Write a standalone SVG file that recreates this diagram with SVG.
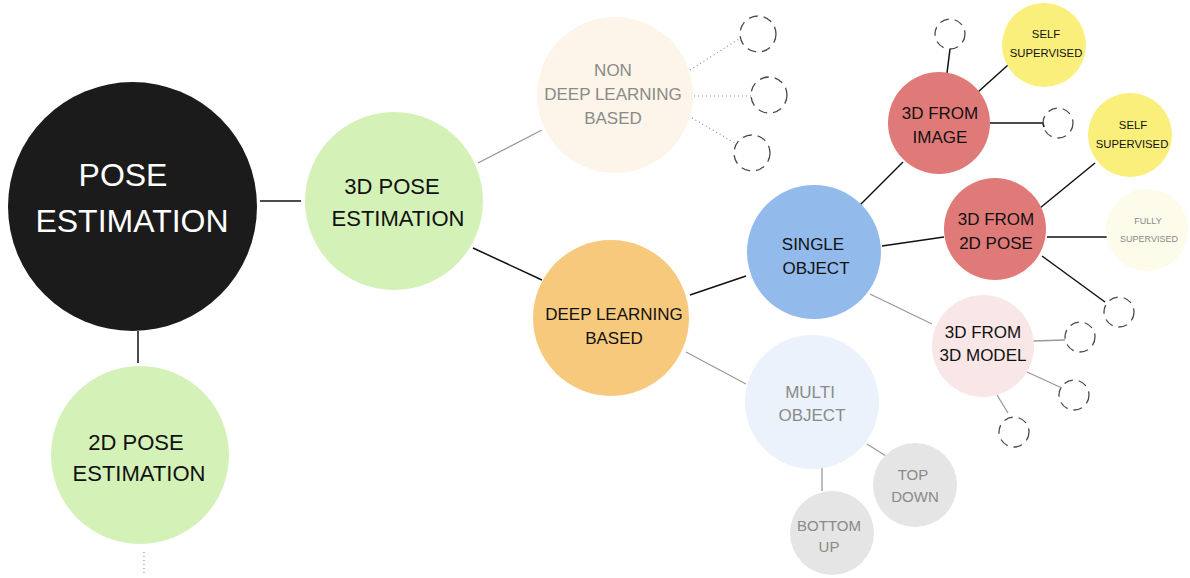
<svg xmlns="http://www.w3.org/2000/svg" width="1190" height="578" viewBox="0 0 1190 578">
  <style>
    text { font-family: "Liberation Sans", Arial, sans-serif; text-anchor: middle; }
    .dark { fill: #111111; }
    .muted { fill: #8a8a8a; }
    .link { stroke: #111111; stroke-width: 1.5; fill: none; }
    .soft { stroke: #9a9a9a; stroke-width: 1.3; fill: none; }
    .dots { stroke: #8a8a8a; stroke-width: 1.1; stroke-dasharray: 1 3; fill: none; }
    .stub { fill: none; stroke: #4a4a4a; stroke-width: 1.3; stroke-dasharray: 9 6; }
  </style>

  <!-- connectors -->
  <g id="connectors">
    <line class="link" x1="260" y1="201" x2="301" y2="201"/>
    <line class="link" x1="138" y1="331" x2="138" y2="363"/>
    <line class="dots" x1="144" y1="552" x2="144" y2="576"/>
    <line class="soft" x1="478" y1="163" x2="542" y2="130"/>
    <line class="link" x1="473" y1="248" x2="542" y2="280"/>
    <line class="dots" x1="690" y1="70" x2="739" y2="39"/>
    <line class="dots" x1="694" y1="96" x2="751" y2="96"/>
    <line class="dots" x1="692" y1="118" x2="735" y2="143"/>
    <line class="link" x1="690" y1="295" x2="746" y2="276"/>
    <line class="soft" x1="686" y1="352" x2="746" y2="384"/>
    <line class="soft" x1="867" y1="444" x2="886" y2="456"/>
    <line class="soft" x1="822" y1="468" x2="822" y2="491"/>
    <line class="link" x1="860" y1="205" x2="903" y2="162"/>
    <line class="link" x1="882" y1="246" x2="944" y2="237"/>
    <line class="soft" x1="870" y1="294" x2="932" y2="324"/>
    <line class="link" x1="950" y1="49" x2="947" y2="73"/>
    <line class="link" x1="978" y1="92" x2="1008" y2="65"/>
    <polyline class="link" points="990,123 1043,123 1044,127"/>
    <line class="link" x1="1040" y1="208" x2="1095" y2="163"/>
    <line class="link" x1="1047" y1="237" x2="1107" y2="237"/>
    <line class="link" x1="1042" y1="256" x2="1105" y2="302"/>
    <line class="soft" x1="1033" y1="341" x2="1065" y2="340"/>
    <line class="soft" x1="1027" y1="372" x2="1062" y2="388"/>
    <line class="soft" x1="997" y1="395" x2="1008" y2="413"/>
  </g>

  <!-- empty placeholder branches -->
  <g id="stubs">
    <circle class="stub" cx="758" cy="34" r="18"/>
    <circle class="stub" cx="769" cy="95" r="18"/>
    <circle class="stub" cx="752" cy="153" r="18"/>
    <circle class="stub" cx="950" cy="34" r="15"/>
    <circle class="stub" cx="1058" cy="123" r="15"/>
    <circle class="stub" cx="1119" cy="312" r="15"/>
    <circle class="stub" cx="1080" cy="337" r="15"/>
    <circle class="stub" cx="1074" cy="395" r="15"/>
    <circle class="stub" cx="1014" cy="432" r="15"/>
  </g>

  <g id="pose-estimation">
    <circle cx="132.5" cy="206.5" r="124.5" fill="#1b1b1b"/>
    <text x="123" y="186" font-size="32" fill="#ffffff">POSE</text>
    <text x="132" y="232" font-size="32" fill="#ffffff">ESTIMATION</text>
  </g>

  <g id="pose-3d">
    <circle cx="394" cy="201" r="89" fill="#d4f1b8"/>
    <text class="dark" x="392" y="194" font-size="22">3D POSE</text>
    <text class="dark" x="398" y="226" font-size="22">ESTIMATION</text>
  </g>

  <g id="pose-2d">
    <circle cx="140" cy="455" r="89" fill="#d4f1b8"/>
    <text class="dark" x="136" y="450" font-size="22">2D POSE</text>
    <text class="dark" x="139" y="481" font-size="22">ESTIMATION</text>
  </g>

  <g id="non-deep-learning">
    <circle cx="615" cy="95" r="78" fill="#fdf5e9"/>
    <text class="muted" x="613" y="76" font-size="17">NON</text>
    <text class="muted" x="613" y="100" font-size="17">DEEP LEARNING</text>
    <text class="muted" x="613" y="124" font-size="17">BASED</text>
  </g>

  <g id="deep-learning">
    <circle cx="611" cy="318" r="78" fill="#f7c97c"/>
    <text class="dark" x="614" y="320" font-size="17">DEEP LEARNING</text>
    <text class="dark" x="614" y="344" font-size="17">BASED</text>
  </g>

  <g id="single-object">
    <circle cx="814" cy="252" r="67" fill="#92bbec"/>
    <text class="dark" x="813" y="250" font-size="17">SINGLE</text>
    <text class="dark" x="816" y="274" font-size="17">OBJECT</text>
  </g>

  <g id="multi-object">
    <circle cx="812" cy="402" r="67" fill="#ebf2fb"/>
    <text class="muted" x="810" y="398" font-size="17">MULTI</text>
    <text class="muted" x="812" y="421" font-size="17">OBJECT</text>
  </g>

  <g id="top-down">
    <circle cx="915" cy="485" r="42" fill="#e5e5e5"/>
    <text class="muted" x="913" y="480" font-size="15">TOP</text>
    <text class="muted" x="915" y="502" font-size="15">DOWN</text>
  </g>

  <g id="bottom-up">
    <circle cx="832" cy="533" r="42" fill="#e5e5e5"/>
    <text class="muted" x="829" y="531" font-size="15">BOTTOM</text>
    <text class="muted" x="829" y="552" font-size="15">UP</text>
  </g>

  <g id="from-image">
    <circle cx="939" cy="123" r="51" fill="#e07a78"/>
    <text class="dark" x="940" y="119" font-size="17">3D FROM</text>
    <text class="dark" x="940" y="143" font-size="17">IMAGE</text>
  </g>

  <g id="from-2d-pose">
    <circle cx="995" cy="229" r="51" fill="#e07a78"/>
    <text class="dark" x="996" y="225" font-size="17">3D FROM</text>
    <text class="dark" x="996" y="249" font-size="17">2D POSE</text>
  </g>

  <g id="from-3d-model">
    <circle cx="983" cy="346" r="51" fill="#f9e6e6"/>
    <text class="dark" x="983" y="338" font-size="17">3D FROM</text>
    <text class="dark" x="983" y="361" font-size="17">3D MODEL</text>
  </g>

  <g id="self-supervised-image">
    <circle cx="1044" cy="45" r="42" fill="#f9ef7a"/>
    <text class="dark" x="1046" y="38" font-size="11.3">SELF</text>
    <text class="dark" x="1046" y="57" font-size="11.3">SUPERVISED</text>
  </g>

  <g id="self-supervised-pose">
    <circle cx="1130" cy="135" r="42" fill="#f9ef7a"/>
    <text class="dark" x="1133" y="129" font-size="11.3">SELF</text>
    <text class="dark" x="1132" y="148" font-size="11.3">SUPERVISED</text>
  </g>

  <g id="fully-supervised">
    <circle cx="1147" cy="230" r="41" fill="#fdfbe9"/>
    <text class="muted" x="1148" y="224" font-size="9">FULLY</text>
    <text class="muted" x="1149" y="242" font-size="9">SUPERVISED</text>
  </g>
</svg>
